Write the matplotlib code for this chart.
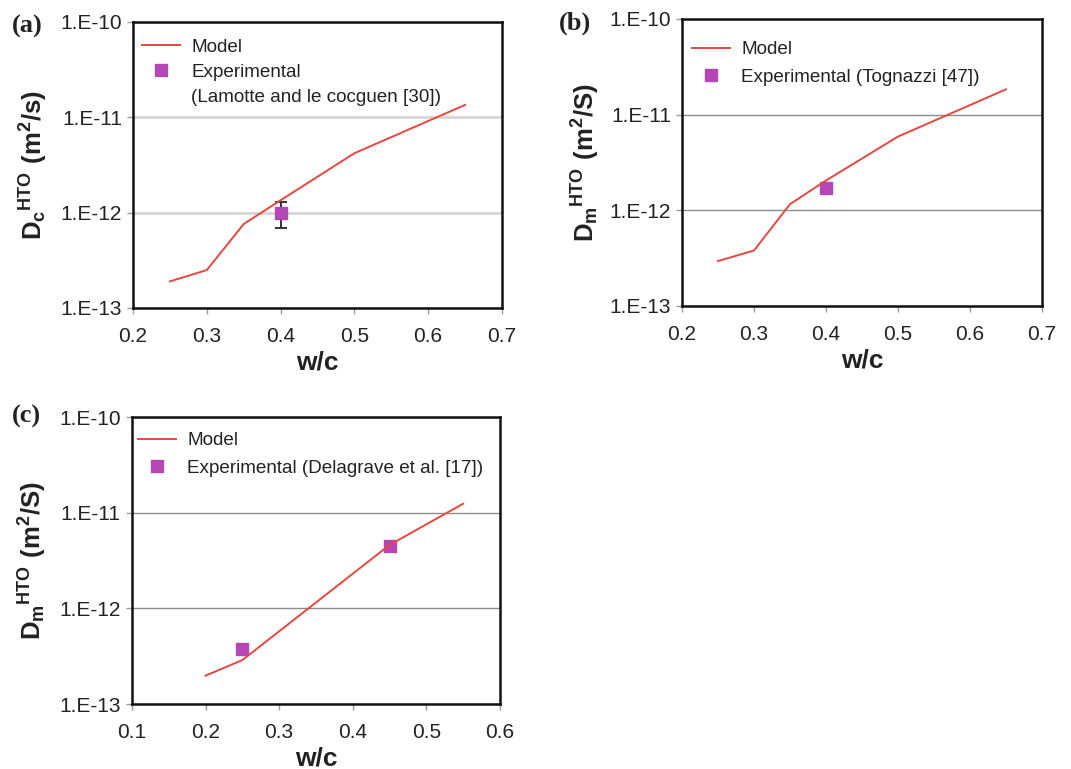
import matplotlib.pyplot as plt
import numpy as np
from matplotlib.lines import Line2D
from matplotlib.ticker import FixedLocator, FuncFormatter

plt.rcParams["font.family"] = ["Liberation Sans", "DejaVu Sans"]
plt.rcParams["mathtext.fontset"] = "custom"
plt.rcParams["mathtext.rm"] = "Liberation Sans"
plt.rcParams["mathtext.bf"] = "Liberation Sans:bold"

# panel (a)
wc_a = [0.25, 0.30, 0.35, 0.40, 0.50, 0.65]
model_a = [1.9e-13, 2.5e-13, 7.6e-13, 1.35e-12, 4.2e-12, 1.35e-11]
exp_wc_a = [0.40]
exp_a = [1.0e-12]
exp_err_lo_a = [3.1e-13]
exp_err_hi_a = [3.0e-13]

# panel (b)
wc_b = [0.25, 0.30, 0.35, 0.40, 0.50, 0.65]
model_b = [2.95e-13, 3.8e-13, 1.16e-12, 2.05e-12, 5.9e-12, 1.84e-11]
exp_wc_b = [0.40]
exp_b = [1.73e-12]

# panel (c)
wc_c = [0.20, 0.25, 0.45, 0.55]
model_c = [1.98e-13, 2.88e-13, 4.6e-12, 1.24e-11]
exp_wc_c = [0.25, 0.45]
exp_c = [3.8e-13, 4.5e-12]

y_ticks = [1e-13, 1e-12, 1e-11, 1e-10]

RED = "#e8473f"
MAGENTA = "#b546b5"
TEXT = "#222222"


def style_axis(axis, xticks, grid_color, grid_width):
    axis.set_yscale("log")
    axis.set_ylim(1e-13, 1e-10)
    axis.set_xlim(xticks[0], xticks[-1])
    axis.yaxis.set_major_locator(FixedLocator(y_ticks))
    axis.yaxis.set_minor_locator(FixedLocator([]))
    axis.yaxis.set_major_formatter(
        FuncFormatter(lambda v, pos: f"1.E-{int(round(-np.log10(v)))}")
    )
    axis.set_xticks(xticks)
    axis.set_xticklabels([f"{t:.1f}" for t in xticks])
    axis.tick_params(
        axis="both", direction="out", length=4, width=1, color="#999999",
        labelsize=15, labelcolor=TEXT,
    )
    axis.tick_params(axis="x", pad=10)
    axis.tick_params(axis="y", pad=4)
    axis.grid(True, axis="y", color=grid_color, linewidth=grid_width, zorder=0)
    axis.set_axisbelow(True)
    for spine in axis.spines.values():
        spine.set_linewidth(1.8)
        spine.set_color("#111111")
    axis.set_xlabel("w/c", fontsize=19, fontweight="bold", labelpad=3, color=TEXT)


def add_legend(axis, labels, anchor, spacing=0.55):
    handles = [
        Line2D([], [], color=RED, linewidth=1.4),
        Line2D([], [], linestyle="none", marker="s", color=MAGENTA, markersize=8),
    ]
    # extra label lines get an empty handle
    while len(handles) < len(labels):
        handles.append(Line2D([], [], linestyle="none"))
    axis.legend(
        handles, labels, loc="upper left", bbox_to_anchor=anchor,
        frameon=False, fontsize=13.6, handlelength=2.0, handletextpad=0.6,
        borderaxespad=0.25, labelspacing=spacing, labelcolor=TEXT,
    )


fig = plt.figure(figsize=(10.71, 7.69), dpi=100)
ax_a = fig.add_axes([0.1242, 0.5995, 0.3445, 0.3719])
ax_b = fig.add_axes([0.6368, 0.6021, 0.3361, 0.3732])
ax_c = fig.add_axes([0.1232, 0.0845, 0.3436, 0.3732])

# (a)
ax_a.plot(wc_a, model_a, color=RED, linewidth=1.4, zorder=3)
ax_a.errorbar(
    exp_wc_a, exp_a, yerr=[exp_err_lo_a, exp_err_hi_a], fmt="s",
    color=MAGENTA, markersize=8, ecolor="#333333", elinewidth=1.4,
    capsize=4, capthick=1.4, zorder=2,
)
style_axis(ax_a, [0.2, 0.3, 0.4, 0.5, 0.6, 0.7], "#d6d6d6", 2.0)
ax_a.set_ylabel(r"$\mathbf{D_c}^{\mathbf{HTO}}\ \mathbf{(m^2/s)}$", fontsize=18.5,
                labelpad=8, color=TEXT)
add_legend(ax_a, ["Model", "Experimental", "(Lamotte and le cocguen [30])"],
           (-0.008, 0.985), spacing=0.42)

# (b)
ax_b.plot(wc_b, model_b, color=RED, linewidth=1.4, zorder=3)
ax_b.plot(exp_wc_b, exp_b, "s", color=MAGENTA, markersize=8, zorder=2)
style_axis(ax_b, [0.2, 0.3, 0.4, 0.5, 0.6, 0.7], "#8c8c8c", 1.0)
ax_b.set_ylabel(r"$\mathbf{D_m}^{\mathbf{HTO}}\ \mathbf{(m^2/S)}$", fontsize=18.5,
                labelpad=6, color=TEXT)
add_legend(ax_b, ["Model", "Experimental (Tognazzi [47])"], (-0.006, 0.966))

# (c)
ax_c.plot(wc_c, model_c, color=RED, linewidth=1.4, zorder=3)
ax_c.plot(exp_wc_c, exp_c, "s", color=MAGENTA, markersize=8, zorder=2)
style_axis(ax_c, [0.1, 0.2, 0.3, 0.4, 0.5, 0.6], "#8c8c8c", 1.0)
ax_c.set_ylabel(r"$\mathbf{D_m}^{\mathbf{HTO}}\ \mathbf{(m^2/S)}$", fontsize=18.5,
                labelpad=8, color=TEXT)
add_legend(ax_c, ["Model", "Experimental (Delagrave et al. [17])"], (-0.017, 0.99))

serif = ["Liberation Serif", "DejaVu Serif"]
fig.text(0.011, 0.966, "(a)", fontsize=19, fontweight="bold", family=serif,
         color=TEXT, va="center")
fig.text(0.522, 0.970, "(b)", fontsize=19, fontweight="bold", family=serif,
         color=TEXT, va="center")
fig.text(0.011, 0.459, "(c)", fontsize=19, fontweight="bold", family=serif,
         color=TEXT, va="center")

fig.savefig("out.png", dpi=100)
